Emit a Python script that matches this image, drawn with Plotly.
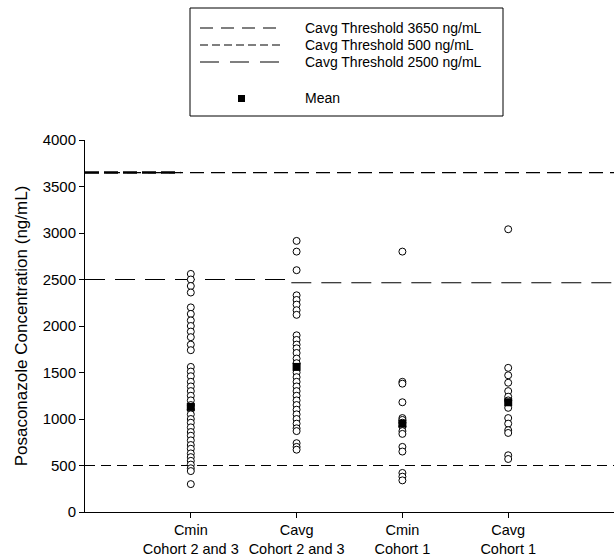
import plotly.graph_objects as go

# ---------------- data ----------------
categories = ["Cmin<br>Cohort 2 and 3", "Cavg<br>Cohort 2 and 3", "Cmin<br>Cohort 1", "Cavg<br>Cohort 1"]
cat_pos = [1, 2, 3, 4]

cmin_c23 = [2560, 2500, 2430, 2360, 2200, 2130, 2060, 2000, 1940, 1880, 1800, 1740,
            1560, 1510, 1460, 1400, 1350, 1300, 1250, 1200, 1150, 1100, 1050, 1000,
            960, 910, 860, 820, 770, 720, 680, 630, 590, 550, 510, 470, 440, 300]
cavg_c23 = [2915, 2800, 2600, 2330, 2280, 2230, 2170, 2120, 1900, 1850, 1800, 1760,
            1710, 1650, 1600, 1500, 1450, 1400, 1350, 1300, 1250, 1200, 1150, 1100,
            1050, 1000, 950, 900, 870, 740, 700, 670]
cmin_c1 = [2800, 1400, 1380, 1180, 1010, 990, 960, 920, 870, 840, 700, 650, 420, 380, 340]
cavg_c1 = [3040, 1550, 1470, 1390, 1300, 1240, 1200, 1120, 1010, 950, 880, 850, 610, 570]
means = [1130, 1560, 950, 1180]

threshold_values = [3650, 500, 2500]
threshold_names = ["Cavg Threshold 3650 ng/mL", "Cavg Threshold 500 ng/mL", "Cavg Threshold 2500 ng/mL"]

y_ticks = [0, 500, 1000, 1500, 2000, 2500, 3000, 3500, 4000]

# ---------------- figure ----------------
FONT = "Arial, Liberation Sans, sans-serif"
W, H = 614, 556
L, R, T, B = 85, 0, 140, 44
pw, ph = W - L - R, H - T - B

def px(x):
    return (x - L) / pw

def py(y):
    return (H - B - y) / ph

fig = go.Figure()

# threshold lines
dashes = {3650: "14px,7px", 500: "10px,6px", 2500: "20px,10px"}
fig.add_trace(go.Scatter(x=[0, 5], y=[threshold_values[0]] * 2, mode="lines",
                         line=dict(color="black", width=1.2, dash=dashes[3650]),
                         showlegend=False, hoverinfo="skip"))
fig.add_trace(go.Scatter(x=[0, 0.9], y=[threshold_values[0]] * 2, mode="lines",
                         line=dict(color="black", width=2.4, dash="14px,5px"),
                         showlegend=False, hoverinfo="skip"))
fig.add_trace(go.Scatter(x=[0, 5], y=[threshold_values[1]] * 2, mode="lines",
                         line=dict(color="black", width=1.2, dash=dashes[500]),
                         showlegend=False, hoverinfo="skip"))
fig.add_trace(go.Scatter(x=[0, 1.95], y=[threshold_values[2]] * 2, mode="lines",
                         line=dict(color="black", width=1.2, dash=dashes[2500]),
                         showlegend=False, hoverinfo="skip"))
fig.add_trace(go.Scatter(x=[1.95, 5], y=[threshold_values[2] - 35] * 2, mode="lines",
                         line=dict(color="black", width=1.2, dash=dashes[2500]),
                         showlegend=False, hoverinfo="skip"))

# individual values
for pos, vals in zip(cat_pos, [cmin_c23, cavg_c23, cmin_c1, cavg_c1]):
    fig.add_trace(go.Scatter(x=[pos] * len(vals), y=vals, mode="markers",
                             marker=dict(symbol="circle", size=7, color="white",
                                         line=dict(color="black", width=1)),
                             showlegend=False))

# means
fig.add_trace(go.Scatter(x=cat_pos, y=means, mode="markers",
                         marker=dict(symbol="square", size=8, color="black"),
                         showlegend=False))

# ---------------- manual legend ----------------
shapes = [dict(type="rect", xref="paper", yref="paper",
               x0=px(190), x1=px(503), y0=py(116), y1=py(8),
               line=dict(color="black", width=1), fillcolor="white", layer="below")]
annotations = []
leg_y = [28, 45, 62]
leg_dash = ["13px,8px", "8px,4px", "19px,11px"]
for yy, name, dsh in zip(leg_y, threshold_names, leg_dash):
    shapes.append(dict(type="line", xref="paper", yref="paper",
                       x0=px(200), x1=px(282), y0=py(yy), y1=py(yy),
                       line=dict(color="black", width=1.2, dash=dsh)))
    annotations.append(dict(xref="paper", yref="paper", x=px(303), y=py(yy),
                            text=name, showarrow=False, xanchor="left", yanchor="middle",
                            font=dict(family=FONT, size=14, color="black")))
shapes.append(dict(type="rect", xref="paper", yref="paper",
                   x0=px(238), x1=px(245), y0=py(102), y1=py(95),
                   line=dict(color="black", width=0), fillcolor="black"))
annotations.append(dict(xref="paper", yref="paper", x=px(303), y=py(98),
                        text="Mean", showarrow=False, xanchor="left", yanchor="middle",
                        font=dict(family=FONT, size=14, color="black")))

fig.update_layout(
    width=W, height=H,
    margin=dict(l=L, r=R, t=T, b=B),
    paper_bgcolor="white", plot_bgcolor="white",
    font=dict(family=FONT, size=14, color="black"),
    shapes=shapes, annotations=annotations,
    showlegend=False,
    xaxis=dict(range=[0, 5], tickvals=cat_pos, ticktext=categories,
               showgrid=False, zeroline=False, showline=True, linecolor="black",
               linewidth=1, ticks="outside", ticklen=5, tickcolor="black",
               tickfont=dict(family=FONT, size=14.5, color="black")),
    yaxis=dict(range=[0, 4000], tickvals=y_ticks, showgrid=False, zeroline=False,
               showline=True, linecolor="black", linewidth=1, ticks="outside",
               ticklen=5, tickcolor="black",
               tickfont=dict(family=FONT, size=15, color="black"),
               title=dict(text="Posaconazole Concentration (ng/mL)", standoff=10,
                          font=dict(family=FONT, size=17, color="black"))),
)

fig.write_html("out.html")
